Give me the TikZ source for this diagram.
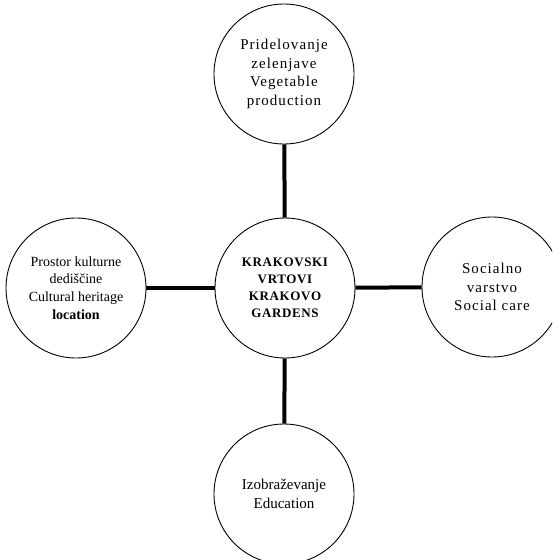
\documentclass[tikz,border=0pt]{standalone}
\usepackage{fontspec}
\setmainfont{Liberation Serif}
\newfontfamily\spacedfont[LetterSpace=7]{Liberation Serif}
\newfontfamily\capsfont[LetterSpace=5]{Liberation Serif}
\begin{document}
\begin{tikzpicture}[x=1pt,y=-1pt,
  bubble/.style={circle,draw=black,line width=0.9pt,fill=white,minimum size=140pt,inner sep=0pt,
    align=center,font=\spacedfont\fontsize{15}{18.5}\selectfont},
  plainbubble/.style={bubble,font=\rmfamily\fontsize{15}{19}\selectfont},
  tightbubble/.style={bubble,font=\rmfamily\fontsize{14}{17.7}\selectfont},
  hub/.style={bubble,font=\capsfont\bfseries\fontsize{13}{17}\selectfont},
  link/.style={line width=4pt,draw=black}]
\useasboundingbox (0,0) rectangle (552,560);
\clip (0,0) rectangle (552,560);
\node[hub] (c) at (285,288) {KRAKOVSKI\\VRTOVI\\KRAKOVO\\GARDENS};
\node[bubble] (t) at (284,74) {Pridelovanje\\zelenjave\\Vegetable\\production};
\node[tightbubble] (l) at (76,288) {Prostor kulturne\\dediščine\\Cultural heritage\\\textbf{location}};
\node[bubble] (r) at (492,287) {Socialno\\varstvo\\Social care};
\node[plainbubble] (b) at (284,494) {Izobraževanje\\Education};
\draw[link] (c) -- (t);
\draw[link] (c) -- (l);
\draw[link] (c) -- (r);
\draw[link] (c) -- (b);
\end{tikzpicture}
\end{document}
